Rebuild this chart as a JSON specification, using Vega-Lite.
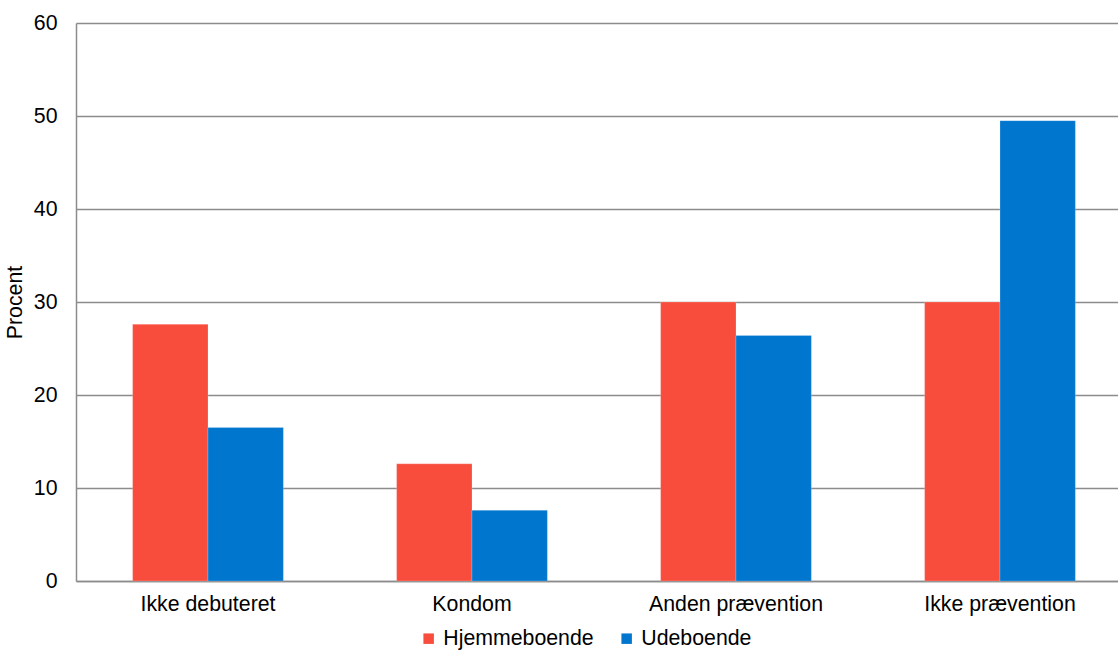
{
  "$schema": "https://vega.github.io/schema/vega-lite/v6.json",
  "autosize": "none",
  "padding": {"left": 76, "top": 23, "right": 0, "bottom": 70},
  "width": 1056,
  "height": 558,
  "background": "white",
  "config": {
    "font": "Liberation Sans",
    "view": {"stroke": null},
    "axis": {"labelColor": "#000000", "titleColor": "#000000"}
  },
  "data": {
    "values": [
      {"kategori": "Ikke debuteret", "gruppe": "Hjemmeboende", "procent": 27.6},
      {"kategori": "Ikke debuteret", "gruppe": "Udeboende", "procent": 16.5},
      {"kategori": "Kondom", "gruppe": "Hjemmeboende", "procent": 12.6},
      {"kategori": "Kondom", "gruppe": "Udeboende", "procent": 7.6},
      {"kategori": "Anden prævention", "gruppe": "Hjemmeboende", "procent": 30.0},
      {"kategori": "Anden prævention", "gruppe": "Udeboende", "procent": 26.4},
      {"kategori": "Ikke prævention", "gruppe": "Hjemmeboende", "procent": 30.0},
      {"kategori": "Ikke prævention", "gruppe": "Udeboende", "procent": 49.5}
    ]
  },
  "mark": {"type": "bar", "stroke": "#ffffff", "strokeOpacity": 0.35, "strokeWidth": 0.6},
  "encoding": {
    "x": {
      "field": "kategori",
      "type": "nominal",
      "sort": ["Ikke debuteret", "Kondom", "Anden prævention", "Ikke prævention"],
      "scale": {"paddingInner": 0.429, "paddingOuter": 0.2145},
      "axis": {
        "title": null,
        "labelAngle": 0,
        "labelFontSize": 21.3,
        "labelPadding": 12,
        "ticks": false,
        "tickSize": 0,
        "domainColor": "#8c8c8c",
        "domainWidth": 1.5,
        "grid": false
      }
    },
    "xOffset": {
      "field": "gruppe",
      "type": "nominal",
      "sort": ["Hjemmeboende", "Udeboende"],
      "scale": {"paddingInner": 0, "paddingOuter": 0}
    },
    "y": {
      "field": "procent",
      "type": "quantitative",
      "scale": {"domain": [0, 60], "nice": false},
      "axis": {
        "title": "Procent",
        "titleFontSize": 21.3,
        "titleFontWeight": "normal",
        "titlePadding": 8,
        "values": [0, 10, 20, 30, 40, 50, 60],
        "labelFontSize": 21.3,
        "labelPadding": 19,
        "ticks": false,
        "tickSize": 0,
        "domainColor": "#8c8c8c",
        "domainWidth": 1.5,
        "gridColor": "#8c8c8c",
        "gridWidth": 1.5
      }
    },
    "color": {
      "field": "gruppe",
      "type": "nominal",
      "sort": ["Hjemmeboende", "Udeboende"],
      "scale": {"domain": ["Hjemmeboende", "Udeboende"], "range": ["#F84C3C", "#0076CE"]},
      "legend": {
        "title": null,
        "orient": "none",
        "direction": "horizontal",
        "legendX": 342,
        "legendY": 605,
        "symbolType": "square",
        "symbolSize": 110,
        "symbolStrokeWidth": 0,
        "labelFontSize": 21.3,
        "labelColor": "#000000",
        "labelOffset": 4,
        "columnPadding": 22
      }
    }
  }
}
